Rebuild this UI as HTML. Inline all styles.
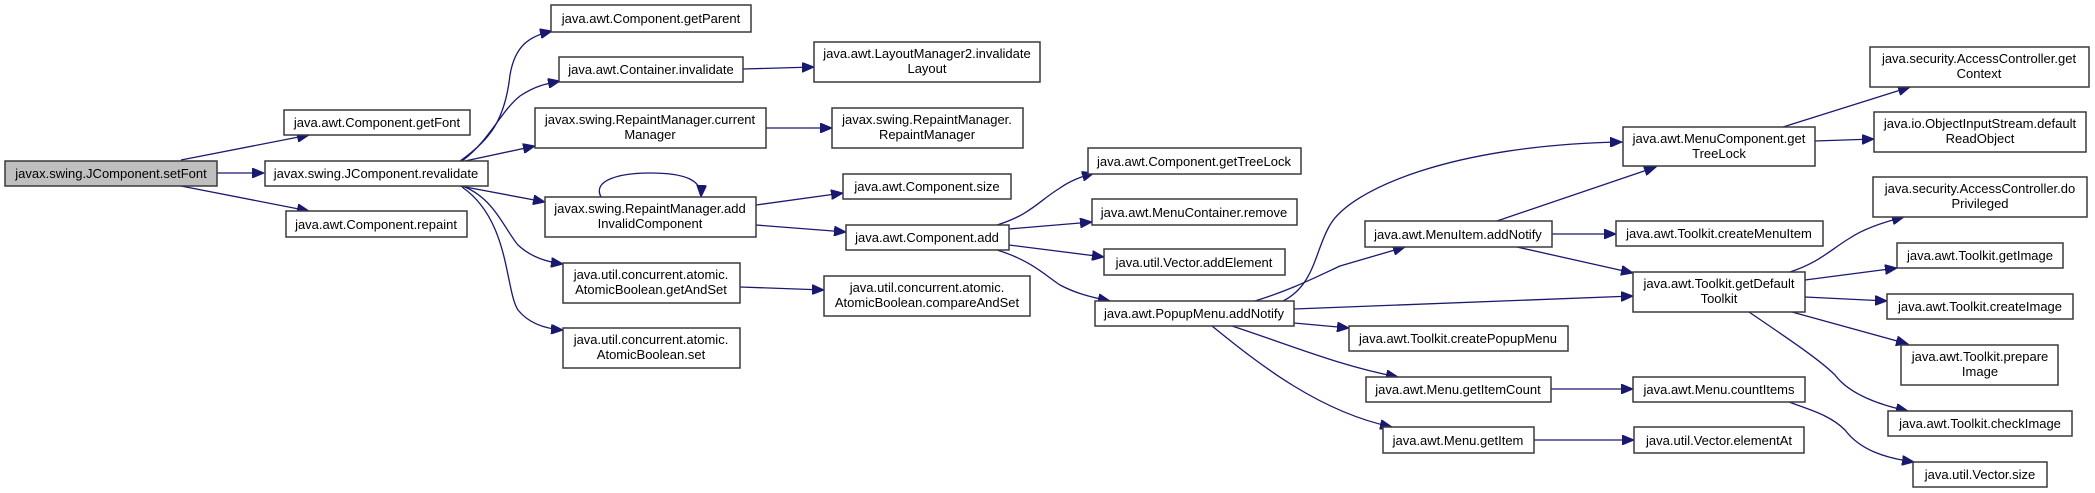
<!DOCTYPE html>
<html><head><meta charset="utf-8"><style>
html,body{margin:0;padding:0;background:#fff;}
svg{display:block;}
text{font-family:"Liberation Sans",Arial,sans-serif;font-size:13px;fill:#000;}
.n{fill:#fff;stroke:#3a3a3a;stroke-width:1.5;}
.e{fill:none;stroke:#191970;stroke-width:1.3;marker-end:url(#a);}
</style></head><body>
<svg width="2095" height="493" viewBox="0 0 2095 493" xmlns="http://www.w3.org/2000/svg">
<defs><marker id="a" markerUnits="userSpaceOnUse" markerWidth="13" markerHeight="10" refX="12" refY="5" orient="auto"><path d="M0,0 L12,5 L0,10 z" fill="#191970" stroke="#191970"/></marker></defs>

<!-- edges -->
<path class="e" d="M181,160 L309,135"/>
<path class="e" d="M217,173 L264,173"/>
<path class="e" d="M181,186 L309,211"/>
<path class="e" d="M460,161 C490,140 505,120 510,75 C515,45 530,36 552,31"/>
<path class="e" d="M462,161 C490,140 500,112 520,96 C535,86 545,84 560,81"/>
<path class="e" d="M465,161 L535,146"/>
<path class="e" d="M460,186 L545,202"/>
<path class="e" d="M465,187 C495,200 505,230 518,245 C532,258 548,262 563,264"/>
<path class="e" d="M462,187 C510,220 505,290 518,310 C530,325 548,329 563,330"/>
<path class="e" d="M601,197 C592,180 620,173 650,173 C685,173 702,180 701,197"/>
<path class="e" d="M756,205 L843,193"/>
<path class="e" d="M756,225 L846,232"/>
<path class="e" d="M740,287 L824,290"/>
<path class="e" d="M743,69 L814,67"/>
<path class="e" d="M766,128 L832,128"/>
<path class="e" d="M997,225 C1030,215 1040,200 1060,188 C1070,181 1080,177 1094,173"/>
<path class="e" d="M1009,229 L1092,222"/>
<path class="e" d="M1009,245 L1104,257"/>
<path class="e" d="M997,250 C1030,260 1045,275 1060,285 C1075,293 1090,297 1110,301"/>
<path class="e" d="M1255,301 C1290,290 1310,280 1340,266 L1405,247"/>
<path class="e" d="M1283,301 C1315,285 1315,250 1330,225 C1350,190 1450,145 1622,142"/>
<path class="e" d="M1294,309 L1633,296"/>
<path class="e" d="M1294,323 L1349,328"/>
<path class="e" d="M1232,326 C1290,345 1340,366 1398,377"/>
<path class="e" d="M1212,326 C1260,365 1320,412 1392,427"/>
<path class="e" d="M1497,221 L1656,167"/>
<path class="e" d="M1552,234 L1616,234"/>
<path class="e" d="M1517,247 L1633,273"/>
<path class="e" d="M1551,389 L1633,389"/>
<path class="e" d="M1534,440 L1634,440"/>
<path class="e" d="M1783,127 L1910,87"/>
<path class="e" d="M1815,141 L1874,139"/>
<path class="e" d="M1790,272 C1820,262 1830,250 1850,238 C1862,230 1880,223 1904,217"/>
<path class="e" d="M1805,280 L1897,268"/>
<path class="e" d="M1805,297 L1887,301"/>
<path class="e" d="M1792,312 L1908,344"/>
<path class="e" d="M1749,312 C1790,340 1820,360 1835,375 C1850,395 1880,405 1908,411"/>
<path class="e" d="M1789,402 C1810,410 1830,415 1845,430 C1860,450 1885,458 1914,462"/>

<!-- nodes -->
<rect x="5" y="161" width="212" height="25" fill="#bfbfbf" stroke="#3a3a3a" stroke-width="1.5"/>
<text x="111" y="178" text-anchor="middle">javax.swing.JComponent.setFont</text>
<rect class="n" x="284" y="110" width="186" height="25"/><text x="377" y="127" text-anchor="middle">java.awt.Component.getFont</text>
<rect class="n" x="265" y="161" width="223" height="25"/><text x="376" y="178" text-anchor="middle">javax.swing.JComponent.revalidate</text>
<rect class="n" x="286" y="211" width="181" height="26"/><text x="376" y="229" text-anchor="middle">java.awt.Component.repaint</text>
<rect class="n" x="551" y="5" width="200" height="27"/><text x="651" y="23" text-anchor="middle">java.awt.Component.getParent</text>
<rect class="n" x="559" y="57" width="184" height="25"/><text x="651" y="74" text-anchor="middle">java.awt.Container.invalidate</text>
<rect class="n" x="535" y="108" width="231" height="40"/><text x="650" y="124" text-anchor="middle">javax.swing.RepaintManager.current</text><text x="650" y="139" text-anchor="middle">Manager</text>
<rect class="n" x="545" y="197" width="211" height="40"/><text x="650" y="213" text-anchor="middle">javax.swing.RepaintManager.add</text><text x="650" y="228" text-anchor="middle">InvalidComponent</text>
<rect class="n" x="563" y="263" width="177" height="40"/><text x="651" y="279" text-anchor="middle">java.util.concurrent.atomic.</text><text x="651" y="294" text-anchor="middle">AtomicBoolean.getAndSet</text>
<rect class="n" x="563" y="328" width="177" height="40"/><text x="651" y="344" text-anchor="middle">java.util.concurrent.atomic.</text><text x="651" y="359" text-anchor="middle">AtomicBoolean.set</text>
<rect class="n" x="814" y="42" width="226" height="40"/><text x="927" y="58" text-anchor="middle">java.awt.LayoutManager2.invalidate</text><text x="927" y="73" text-anchor="middle">Layout</text>
<rect class="n" x="832" y="108" width="191" height="40"/><text x="927" y="124" text-anchor="middle">javax.swing.RepaintManager.</text><text x="927" y="139" text-anchor="middle">RepaintManager</text>
<rect class="n" x="843" y="174" width="168" height="25"/><text x="927" y="191" text-anchor="middle">java.awt.Component.size</text>
<rect class="n" x="846" y="225" width="163" height="25"/><text x="927" y="242" text-anchor="middle">java.awt.Component.add</text>
<rect class="n" x="824" y="276" width="206" height="40"/><text x="927" y="292" text-anchor="middle">java.util.concurrent.atomic.</text><text x="927" y="307" text-anchor="middle">AtomicBoolean.compareAndSet</text>
<rect class="n" x="1088" y="148" width="213" height="26"/><text x="1194" y="166" text-anchor="middle">java.awt.Component.getTreeLock</text>
<rect class="n" x="1092" y="199" width="205" height="26"/><text x="1194" y="217" text-anchor="middle">java.awt.MenuContainer.remove</text>
<rect class="n" x="1104" y="249" width="181" height="26"/><text x="1194" y="267" text-anchor="middle">java.util.Vector.addElement</text>
<rect class="n" x="1095" y="301" width="199" height="25"/><text x="1194" y="318" text-anchor="middle">java.awt.PopupMenu.addNotify</text>
<rect class="n" x="1365" y="221" width="187" height="26"/><text x="1458" y="239" text-anchor="middle">java.awt.MenuItem.addNotify</text>
<rect class="n" x="1349" y="326" width="219" height="25"/><text x="1458" y="343" text-anchor="middle">java.awt.Toolkit.createPopupMenu</text>
<rect class="n" x="1366" y="377" width="185" height="25"/><text x="1458" y="394" text-anchor="middle">java.awt.Menu.getItemCount</text>
<rect class="n" x="1383" y="427" width="151" height="26"/><text x="1458" y="445" text-anchor="middle">java.awt.Menu.getItem</text>
<rect class="n" x="1623" y="127" width="192" height="39"/><text x="1719" y="143" text-anchor="middle">java.awt.MenuComponent.get</text><text x="1719" y="158" text-anchor="middle">TreeLock</text>
<rect class="n" x="1616" y="221" width="207" height="25"/><text x="1719" y="238" text-anchor="middle">java.awt.Toolkit.createMenuItem</text>
<rect class="n" x="1633" y="272" width="172" height="40"/><text x="1719" y="288" text-anchor="middle">java.awt.Toolkit.getDefault</text><text x="1719" y="303" text-anchor="middle">Toolkit</text>
<rect class="n" x="1633" y="377" width="172" height="25"/><text x="1719" y="394" text-anchor="middle">java.awt.Menu.countItems</text>
<rect class="n" x="1634" y="427" width="170" height="26"/><text x="1719" y="445" text-anchor="middle">java.util.Vector.elementAt</text>
<rect class="n" x="1870" y="47" width="219" height="40"/><text x="1979" y="63" text-anchor="middle">java.security.AccessController.get</text><text x="1979" y="78" text-anchor="middle">Context</text>
<rect class="n" x="1874" y="112" width="212" height="40"/><text x="1980" y="128" text-anchor="middle">java.io.ObjectInputStream.default</text><text x="1980" y="143" text-anchor="middle">ReadObject</text>
<rect class="n" x="1873" y="177" width="214" height="40"/><text x="1980" y="193" text-anchor="middle">java.security.AccessController.do</text><text x="1980" y="208" text-anchor="middle">Privileged</text>
<rect class="n" x="1897" y="243" width="166" height="25"/><text x="1980" y="260" text-anchor="middle">java.awt.Toolkit.getImage</text>
<rect class="n" x="1887" y="294" width="186" height="25"/><text x="1980" y="311" text-anchor="middle">java.awt.Toolkit.createImage</text>
<rect class="n" x="1901" y="345" width="157" height="40"/><text x="1980" y="361" text-anchor="middle">java.awt.Toolkit.prepare</text><text x="1980" y="376" text-anchor="middle">Image</text>
<rect class="n" x="1888" y="411" width="184" height="25"/><text x="1980" y="428" text-anchor="middle">java.awt.Toolkit.checkImage</text>
<rect class="n" x="1913" y="462" width="134" height="25"/><text x="1980" y="479" text-anchor="middle">java.util.Vector.size</text>
</svg>
</body></html>
